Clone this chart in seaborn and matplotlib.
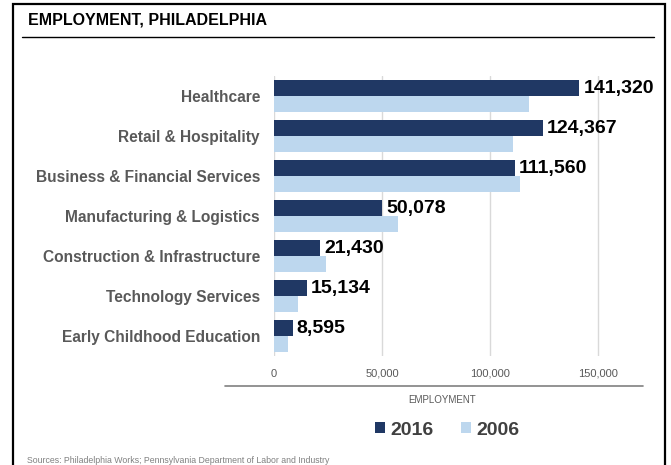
import pandas as pd
import seaborn as sns
import matplotlib.pyplot as plt
from matplotlib.lines import Line2D
from matplotlib.patches import Rectangle

# datos
sectors = ['Healthcare', 'Retail & Hospitality', 'Business & Financial Services',
           'Manufacturing & Logistics', 'Construction & Infrastructure',
           'Technology Services', 'Early Childhood Education']
emp_2016 = [141320, 124367, 111560, 50078, 21430, 15134, 8595]
emp_2006 = [117900, 110800, 114000, 57300, 23900, 11000, 6300]
years = ['2016', '2006']
colors = ['#203864', '#BDD7EE']

df = pd.DataFrame({
    'Sector': sectors * 2,
    'Year': ['2016'] * len(sectors) + ['2006'] * len(sectors),
    'Employment': emp_2016 + emp_2006,
})

sns.set_style('white')
plt.rcParams['font.family'] = ['Liberation Sans', 'DejaVu Sans']

W, H = 671, 465
fig = plt.figure(figsize=(W / 100, H / 100), dpi=100)
ax = fig.add_axes([274 / W, 1 - 356 / H, (652 - 274) / W, (356 - 76) / H])

sns.barplot(data=df, y='Sector', x='Employment', hue='Year', hue_order=years,
            order=sectors, palette=colors, saturation=1, width=0.8, linewidth=0,
            ax=ax, zorder=2)

ax.bar_label(ax.containers[0], labels=[f'{v:,}' for v in emp_2016], padding=3,
             fontsize=14, fontweight='bold', color='black')

ax.set_xlim(0, 175000)
ax.set_xticks([0, 50000, 100000, 150000])
ax.set_xticklabels(['0', '50,000', '100,000', '150,000'])
ax.grid(axis='x', color='#D9D9D9', linewidth=1, zorder=0)
ax.grid(axis='y', visible=False)
for s in ax.spines.values():
    s.set_visible(False)
ax.tick_params(axis='x', length=0, pad=9, labelsize=8, labelcolor='#595959')
ax.tick_params(axis='y', length=0, pad=10, labelsize=11.2, labelcolor='#595959')
for t in ax.get_yticklabels():
    t.set_fontweight('bold')
ax.set_xlabel('')
ax.set_ylabel('')

sns.move_legend(ax, 'center', bbox_to_anchor=(447 / W, 1 - 430 / H),
                bbox_transform=fig.transFigure, ncol=2, frameon=False, title=None,
                fontsize=14, handlelength=0.55, handleheight=0.55,
                handletextpad=0.25, columnspacing=1.4)
for t in ax.get_legend().get_texts():
    t.set_fontweight('bold')
    t.set_color('#404040')

fig.text(442 / W, 1 - 400 / H, 'EMPLOYMENT', ha='center', va='center',
         fontsize=7, color='#595959')

# marco y titulo
fig.patches.append(Rectangle((13 / W, -0.05), (665 - 13) / W, 1.05 - 4 / H,
                             transform=fig.transFigure, fill=False,
                             edgecolor='black', linewidth=1.6))
fig.text(28 / W, 1 - 20 / H, 'EMPLOYMENT, PHILADELPHIA', ha='left', va='center',
         fontsize=11.5, fontweight='bold', color='black')
fig.lines.append(Line2D([22 / W, 654 / W], [1 - 37 / H] * 2,
                        transform=fig.transFigure, color='black', linewidth=1))
fig.lines.append(Line2D([225 / W, 643 / W], [1 - 386 / H] * 2,
                        transform=fig.transFigure, color='#808080', linewidth=1.2))
fig.text(27 / W, 1 - 460 / H,
         'Sources: Philadelphia Works; Pennsylvania Department of Labor and Industry',
         ha='left', va='center', fontsize=6.3, color='#808080')

fig.savefig('out.png', dpi=100)
